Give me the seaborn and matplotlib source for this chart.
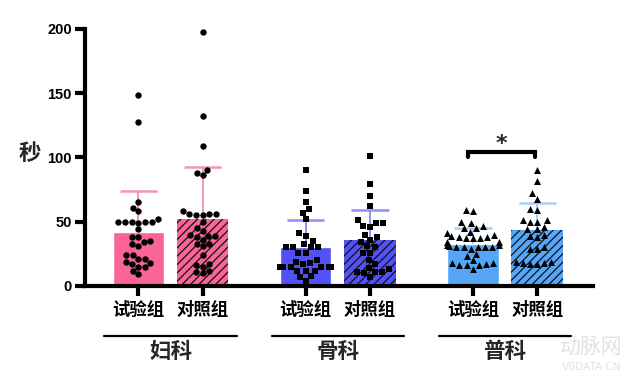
import numpy as np
import pandas as pd
import matplotlib
matplotlib.use('Agg')
import matplotlib.pyplot as plt
import seaborn as sns

# values
departments = ['妇科', '骨科', '普科']
arms = ['试验组', '对照组']

gyn_test = [149, 128, 65, 61, 58, 52, 49, 50, 50, 50, 50, 50, 44, 38, 38, 35, 34, 33, 31,
            24, 24, 21, 21, 19, 18, 17, 15, 15, 12, 9]
gyn_ctrl = [198, 132, 109, 90, 88, 86, 56, 56, 58, 55, 56, 55, 50, 45, 43, 40, 39, 39, 38,
            36, 33, 33, 31, 24, 17, 16, 15, 12, 11, 10]
ortho_test = [90, 74, 65, 60, 57, 52, 41, 39, 35, 33, 30, 30, 30, 30, 26, 26, 20, 19, 18, 17,
              15, 15, 15, 15, 15, 15, 12, 12, 12, 8, 7, 4]
ortho_ctrl = [101, 79, 70, 62, 51, 49, 49, 47, 46, 40, 38, 36, 34, 31, 30, 26, 26, 20, 17, 14,
              13, 11, 11, 11, 10, 7]
gen_test = [59, 58, 50, 49, 47, 45, 45, 42, 41, 40, 39, 38.5, 38.5, 37.5, 37, 37, 34, 34, 32, 32,
            31, 30.5, 30.5, 30.5, 30.5, 30.5, 29, 25, 23, 20, 17.5, 17.5, 17, 16, 16, 16, 13]
gen_ctrl = [90, 82, 72, 68, 60, 59, 51, 51, 50, 50, 46, 44, 44, 40, 39, 38, 30, 29, 29, 19,
            19, 18, 18, 17, 17]

bar_means = [42, 52.5, 30, 35.6, 33, 43.4]
bar_sds = [32, 40, 21, 23.5, 11.8, 21.3]
y_ticks = [0, 50, 100, 150, 200]

# layout / styling
positions = [0, 1, 2.6, 3.6, 5.2, 6.2]
bar_colors = ['#F96597', '#F96597', '#5252F4', '#5252F4', '#55A6F7', '#55A6F7']
err_colors = ['#F595B8', '#F595B8', '#8F8FF6', '#8F8FF6', '#A9CEF7', '#A9CEF7']
markers = ['o', 's', '^']
marker_sizes = [4.6, 5.0, 5.0]

groups = [gyn_test, gyn_ctrl, ortho_test, ortho_ctrl, gen_test, gen_ctrl]
rows = []
for i, vals in enumerate(groups):
    for v in vals:
        rows.append({'pos': positions[i], 'value': v, 'dept': departments[i // 2]})
points = pd.DataFrame(rows)

bar_df = pd.DataFrame({'pos': positions, 'mean': bar_means,
                       'key': [d + a for d in departments for a in arms]})

sns.set_style('ticks')
plt.rcParams['font.family'] = ['Noto Sans CJK SC', 'DejaVu Sans']
plt.rcParams['hatch.linewidth'] = 0.9
plt.rcParams['hatch.color'] = '#101018'

fig = plt.figure(figsize=(6.44, 3.76), dpi=100)
ax = fig.add_axes([0.132, 0.2394, 0.789, 0.6835])

sns.barplot(data=bar_df, x='pos', y='mean', hue='key', palette=bar_colors,
            native_scale=True, dodge=False, legend=False, errorbar=None,
            width=0.8, saturation=1, ax=ax, zorder=1)

# hatch the control bars
for p in ax.patches:
    cx = p.get_x() + p.get_width() / 2
    if any(abs(cx - positions[k]) < 0.05 for k in (1, 3, 5)):
        p.set_hatch('////')
        p.set_edgecolor('#101018')
        p.set_linewidth(0)
        if hasattr(p, 'set_hatchcolor'):
            p.set_hatchcolor('#101018')

# upper-only SD bars
for x, m, s, c in zip(positions, bar_means, bar_sds, err_colors):
    ax.vlines(x, m, m + s, color=c, lw=1.4, zorder=2)
    ax.hlines(m + s, x - 0.29, x + 0.29, color=c, lw=1.8, zorder=2)

for dept, marker, ms in zip(departments, markers, marker_sizes):
    sub = points[points['dept'] == dept]
    sns.swarmplot(data=sub, x='pos', y='value', native_scale=True, orient='x',
                  color='black', marker=marker, size=ms, linewidth=0, ax=ax, zorder=4)

for c in ax.collections:
    c.set_clip_on(False)

ax.set_xlim(-0.83, 7.07)
ax.set_ylim(0, 200)
ax.set_xlabel('')
ax.set_ylabel('')

ax.set_yticks(y_ticks)
ax.set_yticklabels([str(v) for v in y_ticks], fontsize=10.5, fontweight='bold',
                   family='Liberation Sans')
ax.set_xticks(positions)
ax.set_xticklabels(arms * 3, fontsize=12.5, fontweight='bold')

sns.despine(ax=ax)
for s in ['left', 'bottom']:
    ax.spines[s].set_linewidth(3)
    ax.spines[s].set_color('black')
ax.tick_params(width=3, length=7.5, color='black', labelcolor='black')
ax.tick_params(axis='x', pad=3)
ax.tick_params(axis='y', pad=2)

ax.text(-0.108, 0.517, '秒', transform=ax.transAxes, ha='center', va='center',
        fontsize=16, fontweight='bold')

# department brackets under the tick labels
trans = ax.get_xaxis_transform()
for i, dept in enumerate(departments):
    x0, x1 = positions[2 * i], positions[2 * i + 1]
    ax.plot([x0 - 0.53, x1 + 0.53], [-0.195, -0.195], transform=trans, color='black',
            lw=1.6, clip_on=False)
    ax.text((x0 + x1) / 2, -0.255, dept, transform=trans, ha='center', va='center',
            fontsize=15.5, fontweight='bold')

# significance marker for 普科
bx0, bx1 = positions[4] - 0.08, positions[5] - 0.03
ax.plot([bx0, bx0, bx1, bx1], [100, 104, 104, 100], color='black', lw=3,
        solid_joinstyle='miter', clip_on=False)
ax.text((bx0 + bx1) / 2, 105.5, '*', ha='center', va='baseline', fontsize=16,
        fontweight='bold', family='DejaVu Sans')

# faint watermark
fig.text(0.918, 0.077, '动脉网', ha='center', va='center', fontsize=15, color='#e2e2e2')
fig.text(0.918, 0.024, 'VBDATA.CN', ha='center', va='center', fontsize=7.5, color='#e2e2e2',
         family='DejaVu Sans')

fig.savefig('out.png', dpi=100)
